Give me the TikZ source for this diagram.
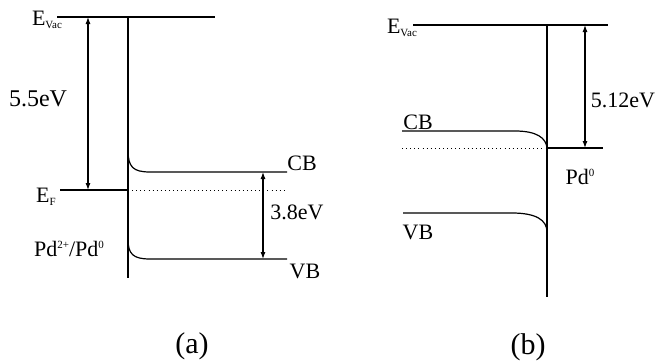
\documentclass[tikz,border=0pt]{standalone}
\usepackage{fontspec}
\setmainfont{Liberation Serif}
\usetikzlibrary{arrows.meta}
\tikzset{
  level/.style={line width=1.2pt},
  fermi/.style={line width=0.8pt, dash pattern=on 0.9pt off 3.2pt},
  gap/.style={line width=1.1pt, {Latex[length=7pt,width=5pt]}-{Latex[length=7pt,width=5pt]}},
  lbl/.style={inner sep=0pt, font=\fontsize{22}{25}\selectfont},
  panelcap/.style={inner sep=0pt, font=\fontsize{30}{34}\selectfont}
}
% small sub- and superscripts in the band labels
\newcommand{\lowtxt}[1]{\raisebox{-0.35ex}{\fontsize{11}{12}\selectfont #1}}
\newcommand{\hightxt}[1]{\raisebox{0.85ex}{\fontsize{11}{12}\selectfont #1}}
\begin{document}
\begin{tikzpicture}[x=1pt,y=-1pt]
\useasboundingbox (0,0) rectangle (659,364);

% ---------- panel (a): before contact ----------
\coordinate (avl) at (57,17);
\coordinate (avr) at (215,17);
\coordinate (asurf) at (128,17);
\coordinate (asurfb) at (128,278);
\coordinate (afl) at (60,190);
\coordinate (afm) at (128,190);
\coordinate (afr) at (287,190);
\coordinate (aarrT) at (88,17);
\coordinate (aarrB) at (88,190);
\coordinate (acb0) at (128,150);
\coordinate (acb1) at (150,172);
\coordinate (acb2) at (287,172);
\coordinate (avb0) at (128,239);
\coordinate (avb1) at (150,259);
\coordinate (avb2) at (287,259);
\coordinate (agT) at (263,172);
\coordinate (agB) at (263,259);

\draw[level] (avl) -- (avr);
\draw[level] (asurf) -- (asurfb);
\draw[level] (afl) -- (afm);
\draw[fermi] (afm) -- (afr);
\draw[level] (acb0) .. controls (128,167) and (133,172) .. (acb1) -- (acb2);
\draw[level] (avb0) .. controls (128,254) and (133,259) .. (avb1) -- (avb2);
\draw[gap] (aarrT) -- (aarrB);
\draw[gap] (agT) -- (agB);

\node[lbl] (aEvac) at (47,20) {E\lowtxt{Vac}};
\node[lbl, font=\fontsize{24}{27}\selectfont] (a55) at (38,99) {5.5eV};
\node[lbl] (aEF) at (46,197) {E\lowtxt{F}};
\node[lbl] (aPd) at (69,249) {Pd\hightxt{2+}/Pd\hightxt{0}};
\node[lbl] (aCB) at (302,163) {CB};
\node[lbl] (a38) at (297,212) {3.8eV};
\node[lbl] (aVB) at (305,271) {VB};
\node[panelcap] (acap) at (192,346) {(a)};

% ---------- panel (b): after contact with Pd ----------
\coordinate (bvl) at (413,25);
\coordinate (bvr) at (608,25);
\coordinate (bsurf) at (547,25);
\coordinate (bsurfb) at (547,297);
\coordinate (bfl) at (402,148);
\coordinate (bfm) at (547,148);
\coordinate (bfr) at (603,148);
\coordinate (barrT) at (585,25);
\coordinate (barrB) at (585,148);
\coordinate (bcb0) at (402,131);
\coordinate (bcb1) at (515,131);
\coordinate (bvb0) at (403,213);
\coordinate (bvb1) at (512,213);
\coordinate (bvb2) at (547,232);

\draw[level] (bvl) -- (bvr);
\draw[level] (bsurf) -- (bsurfb);
\draw[fermi] (bfl) -- (bfm);
\draw[level] (bfm) -- (bfr);
\draw[level] (bcb0) -- (bcb1) .. controls (537,131) and (546,138) .. (bfm);
\draw[level] (bvb0) -- (bvb1) .. controls (536,213) and (547,220) .. (bvb2);
\draw[gap] (barrT) -- (barrB);

\node[lbl] (bEvac) at (402,28) {E\lowtxt{Vac}};
\node[lbl] (b512) at (623,100) {5.12eV};
\node[lbl] (bCB) at (418,122) {CB};
\node[lbl] (bPd) at (580,177) {Pd\hightxt{0}};
\node[lbl] (bVB) at (418,232) {VB};
\node[panelcap] (bcap) at (528,347) {(b)};
\end{tikzpicture}
\end{document}
